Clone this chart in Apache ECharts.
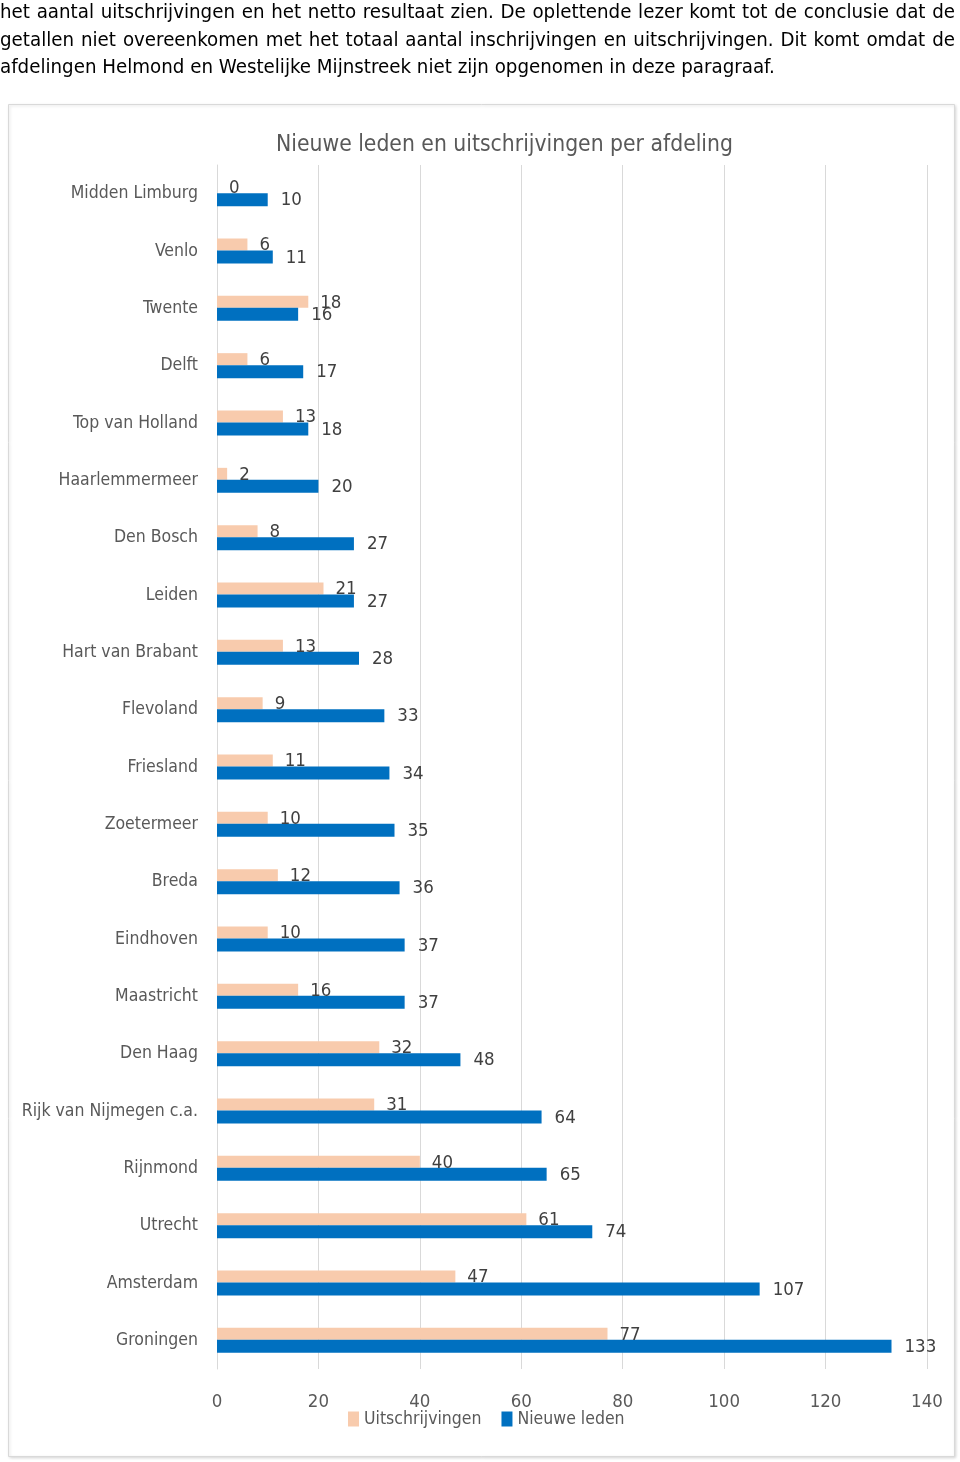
<!DOCTYPE html>
<html>
<head>
<meta charset="utf-8">
<script src="https://cdn.jsdelivr.net/npm/echarts@6/dist/echarts.min.js"></script>
<style>
  html, body { margin: 0; padding: 0; background: #fff; }
  #chart { position: absolute; left: 0; top: 0; width: 960px; height: 1462px; }
  #para { position: absolute; left: 0; top: -2px; width: 955px; font-family: "DejaVu Sans", sans-serif; font-stretch: condensed; font-size: 20.3px; line-height: 27.5px; color: #000; z-index: 2; white-space: nowrap; }
  .j { text-align: justify; text-align-last: justify; }
</style>
</head>
<body>
<div id="chart"></div>
<div id="para">
  <div class="j">het aantal uitschrijvingen en het netto resultaat zien. De oplettende lezer komt tot de conclusie dat de</div>
  <div class="j">getallen niet overeenkomen met het totaal aantal inschrijvingen en uitschrijvingen. Dit komt omdat de</div>
  <div>afdelingen Helmond en Westelijke Mijnstreek niet zijn opgenomen in deze paragraaf.</div>
</div>
<script>
const categories = ["Midden Limburg", "Venlo", "Twente", "Delft", "Top van Holland", "Haarlemmermeer", "Den Bosch", "Leiden", "Hart van Brabant", "Flevoland", "Friesland", "Zoetermeer", "Breda", "Eindhoven", "Maastricht", "Den Haag", "Rijk van Nijmegen c.a.", "Rijnmond", "Utrecht", "Amsterdam", "Groningen"];
const uitschrijvingen = [0, 6, 18, 6, 13, 2, 8, 21, 13, 9, 11, 10, 12, 10, 16, 32, 31, 40, 61, 47, 77];
const nieuweLeden = [10, 11, 16, 17, 18, 20, 27, 27, 28, 33, 34, 35, 36, 37, 37, 48, 64, 65, 74, 107, 133];
const xTicks = [0, 20, 40, 60, 80, 100, 120, 140];

const FONT = '"DejaVu Sans", sans-serif';
const ST = 'condensed';
const chart = echarts.init(document.getElementById('chart'), null, { renderer: 'canvas' });
chart.setOption({
  animation: false,
  backgroundColor: '#fff',
  textStyle: { fontFamily: FONT, fontStyle: ST },
  graphic: [{
    type: 'rect', shape: { x: 8.5, y: 104.5, width: 946, height: 1352 },
    style: { fill: '#fff', stroke: '#d9d9d9', lineWidth: 1, shadowBlur: 3, shadowColor: 'rgba(0,0,0,0.15)', shadowOffsetX: 1, shadowOffsetY: 1 }, z: -10
  }],
  title: {
    text: 'Nieuwe leden en uitschrijvingen per afdeling',
    left: 276, top: 134, padding: 0,
    textStyle: { fontFamily: FONT, fontStyle: ST, fontSize: 22.7, fontWeight: 'normal', color: '#595959' }
  },
  legend: {
    data: ['Uitschrijvingen', 'Nieuwe leden'],
    left: 348, top: 1410, padding: 0,
    icon: 'rect', itemWidth: 11, itemHeight: 15, itemGap: 20,
    textStyle: { fontFamily: FONT, fontStyle: ST, fontSize: 17.5, color: '#595959', padding: [2, 0, 0, 0] }
  },
  grid: { left: 217, right: 33, top: 165, bottom: 93, containLabel: false, outerBoundsMode: 'none' },
  xAxis: {
    type: 'value', min: xTicks[0], max: xTicks[xTicks.length - 1], interval: 20,
    axisLine: { show: false }, axisTick: { show: false },
    splitLine: { show: true, lineStyle: { color: '#d9d9d9', width: 1 } },
    axisLabel: { margin: 24, fontFamily: FONT, fontStyle: ST, fontSize: 18.5, color: '#595959' }
  },
  yAxis: {
    type: 'category', data: categories, inverse: true,
    axisLine: { show: true, lineStyle: { color: '#d9d9d9' } }, axisTick: { show: false },
    axisLabel: { margin: 19, fontFamily: FONT, fontStyle: ST, fontSize: 17.5, color: '#595959' }
  },
  series: [{
    name: 'Uitschrijvingen', type: 'bar', data: uitschrijvingen,
    barWidth: 12, barGap: '0%',
    itemStyle: { color: '#F8CBAD' },
    label: { show: true, position: 'right', distance: 12, offset: [0, 1], fontFamily: FONT, fontStyle: ST, fontSize: 18.5, color: '#404040' }
  }, {
    name: 'Nieuwe leden', type: 'bar', data: nieuweLeden,
    barWidth: 13, barGap: '0%',
    itemStyle: { color: '#0070C0' },
    label: { show: true, position: 'right', distance: 13, offset: [0, 1], fontFamily: FONT, fontStyle: ST, fontSize: 18.5, color: '#404040' }
  }]
});
</script>
</body>
</html>
